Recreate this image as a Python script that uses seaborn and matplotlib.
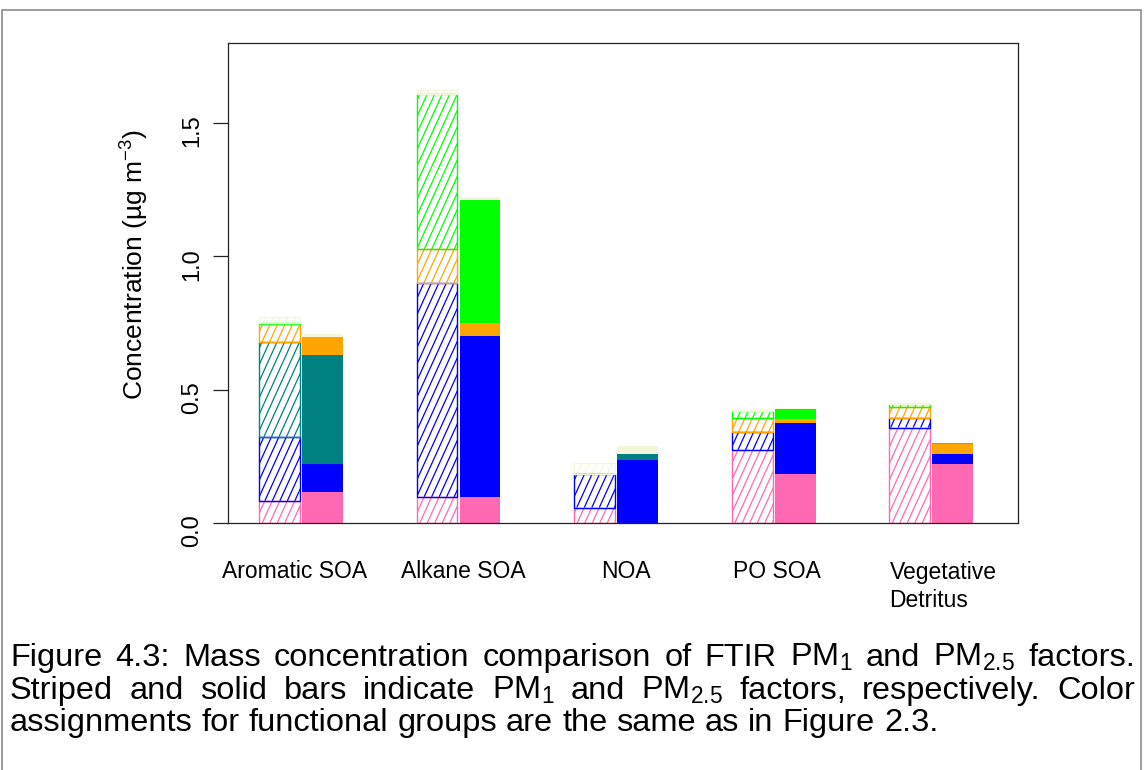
import numpy as np
import pandas as pd
import matplotlib
matplotlib.use("Agg")
import matplotlib.pyplot as plt
import matplotlib.transforms as mtransforms
from matplotlib.patches import Rectangle
from matplotlib.collections import LineCollection
import seaborn as sns

# ---------------------------------------------------------------------------
# Data: FTIR factor composition by functional group (ug m-3)
# ---------------------------------------------------------------------------
factors = ["Aromatic SOA", "Alkane SOA", "NOA", "PO SOA", "Vegetative\nDetritus"]
size_cuts = ["PM1", "PM2.5"]
groups = ["hydroxyl", "alkane", "carbonyl", "amine", "acid", "organonitrate"]
group_colors = ["#FF69B4", "#0000FF", "#008080", "#FFA500", "#00FF00", "#F5F5DC"]

pm1_hydroxyl = [0.083, 0.098, 0.058, 0.273, 0.358]
pm1_alkane = [0.240, 0.803, 0.125, 0.068, 0.037]
pm1_carbonyl = [0.355, 0.0, 0.0, 0.0, 0.0]
pm1_amine = [0.067, 0.125, 0.0, 0.053, 0.040]
pm1_acid = [0.005, 0.581, 0.0, 0.025, 0.013]
pm1_organonitrate = [0.022, 0.015, 0.042, 0.005, 0.003]

pm25_hydroxyl = [0.118, 0.098, 0.0, 0.183, 0.220]
pm25_alkane = [0.103, 0.603, 0.238, 0.193, 0.038]
pm25_carbonyl = [0.409, 0.0, 0.020, 0.0, 0.0]
pm25_amine = [0.067, 0.050, 0.0, 0.013, 0.037]
pm25_acid = [0.0, 0.459, 0.0, 0.037, 0.006]
pm25_organonitrate = [0.012, 0.012, 0.030, 0.007, 0.0]

y_ticks = [0.0, 0.5, 1.0, 1.5]
y_tick_labels = ["0.0", "0.5", "1.0", "1.5"]

caption_lines = [
    "Figure 4.3: Mass concentration comparison of FTIR PM$_1$ and PM$_{2.5}$ factors.",
    "Striped and solid bars indicate PM$_1$ and PM$_{2.5}$ factors, respectively. Color",
    "assignments for functional groups are the same as in Figure 2.3.",
]

pm1_table = [pm1_hydroxyl, pm1_alkane, pm1_carbonyl, pm1_amine, pm1_acid, pm1_organonitrate]
pm25_table = [pm25_hydroxyl, pm25_alkane, pm25_carbonyl, pm25_amine, pm25_acid, pm25_organonitrate]

rows = []
for size, table in zip(size_cuts, [pm1_table, pm25_table]):
    for g, vals in zip(groups, table):
        for f, v in zip(factors, vals):
            rows.append({"factor": f, "size": size, "group": g, "value": v})
df = pd.DataFrame(rows)
df["group"] = pd.Categorical(df["group"], categories=groups, ordered=True)
df = df.sort_values(["size", "factor", "group"])
df["top"] = df.groupby(["size", "factor"], observed=True)["value"].cumsum()
df["base"] = df["top"] - df["value"]

# ---------------------------------------------------------------------------
# Figure
# ---------------------------------------------------------------------------
W, H = 1144, 770
sns.set_style("white")
plt.rcParams["font.family"] = ["Liberation Sans", "DejaVu Sans"]
plt.rcParams["mathtext.fontset"] = "custom"
plt.rcParams["mathtext.rm"] = "Liberation Sans"
plt.rcParams["mathtext.it"] = "Liberation Sans:italic"
plt.rcParams["mathtext.bf"] = "Liberation Sans:bold"
plt.rcParams["mathtext.default"] = "regular"
for key in ["text.color", "axes.labelcolor", "xtick.color", "ytick.color"]:
    plt.rcParams[key] = "black"

fig = plt.figure(figsize=(W / 100, H / 100), dpi=100)
fig.patch.set_facecolor("white")
ax = fig.add_axes([228 / W, 1 - 523 / H, 790 / W, 480 / H])

# Stacked bars: draw cumulative tops from the highest group down, so each
# lower layer covers the part of the stack beneath it.
bar_width, bar_gap = 0.546, 0.048
for g, color in reversed(list(zip(groups, group_colors))):
    layer = df[df["group"] == g]
    n_before = len(ax.patches)
    sns.barplot(data=layer, x="factor", y="top", hue="size",
                order=factors, hue_order=size_cuts,
                palette=[color, color], width=bar_width, gap=bar_gap,
                dodge=True, errorbar=None, saturation=1, legend=False, ax=ax)
    for p in ax.patches[n_before:]:
        cx = p.get_x() + p.get_width() / 2
        if cx < round(cx):          # PM1 bar -> striped (white ground)
            p.set_facecolor("white")
        p.set_edgecolor("none")
        p.set_linewidth(0)

ax.set_xlim(-0.4635, 4.552)
ax.set_ylim(0, 1.8)

# Striped (PM1) segments: hatch lines plus an outline in the group colour
fig.canvas.draw()
to_px = ax.transData.transform
to_data = ax.transData.inverted().transform
slope, spacing = 2.2, 7.5
pm1_patches = {}
for p in ax.patches:
    cx = p.get_x() + p.get_width() / 2
    if cx < round(cx):
        pm1_patches[int(round(cx))] = (p.get_x(), p.get_width())

pm1 = df[df["size"] == "PM1"]
for gi, (g, color) in enumerate(zip(groups, group_colors)):
    seg = pm1[pm1["group"] == g]
    for _, r in seg.iterrows():
        if r["value"] <= 0:
            continue
        i = factors.index(r["factor"])
        x0, w = pm1_patches[i]
        y0, y1 = r["base"], r["top"]
        (X0, Y0), (X1, Y1) = to_px([(x0, y0), (x0 + w, y1)])
        c_min = np.floor((X0 - Y1 / slope) / spacing) * spacing
        cs = np.arange(c_min, X1 - Y0 / slope + spacing, spacing)
        segs = [to_data([(c + Y0 / slope, Y0), (c + Y1 / slope, Y1)]) for c in cs]
        clip = Rectangle((x0, y0), w, y1 - y0, transform=ax.transData)
        lc = LineCollection(segs, colors=color, linewidths=0.9, zorder=2)
        ax.add_collection(lc, autolim=False)
        lc.set_clip_path(clip)
        ax.add_patch(Rectangle((x0, y0), w, y1 - y0, fill=False,
                               edgecolor=color, linewidth=1.0, zorder=3 + gi * 0.01))

ax.set_xlim(-0.4635, 4.552)
ax.set_ylim(0, 1.8)

# Axes styling
for s in ax.spines.values():
    s.set_visible(True)
    s.set_color("#222222")
    s.set_linewidth(0.9)
ax.set_yticks(y_ticks)
ax.set_yticklabels(y_tick_labels)
ax.tick_params(axis="y", direction="out", length=11, width=0.9, color="#222222",
               labelsize=17, labelrotation=90, pad=7, left=True)
ax.tick_params(axis="x", length=0, labelsize=16.5, pad=27)
label_shift_px = [-6, 5, 10, 3, 12]
for lab, dx in zip(ax.get_xticklabels(), label_shift_px):
    lab.set_multialignment("left")
    lab.set_linespacing(1.3)
    lab.set_transform(lab.get_transform() +
                      mtransforms.ScaledTranslation(dx / 100, 0, fig.dpi_scale_trans))
ax.set_xlabel("")
ax.set_ylabel("Concentration (µg m$^{-3}$)", fontsize=19)
ax.yaxis.set_label_coords(-0.098, 0.5375)

# Outer frame
fig.add_artist(Rectangle((2 / W, -0.05), (1141 - 2) / W, 1.05 - 10 / H,
                         transform=fig.transFigure, fill=False,
                         edgecolor="#8c8c8c", linewidth=1.2))

# Caption, justified like the surrounding document text
renderer = fig.canvas.get_renderer()
cap_size = 23.4
left_px, right_px = 10, 1135
probe_a = fig.text(0, 0, "a a", fontsize=cap_size)
probe_b = fig.text(0, 0, "aa", fontsize=cap_size)
space_px = probe_a.get_window_extent(renderer).width - probe_b.get_window_extent(renderer).width
probe_a.remove()
probe_b.remove()

baselines = [666, 699, 731]
for k, (line, base_px) in enumerate(zip(caption_lines, baselines)):
    words = line.split(" ")
    items = [fig.text(0, 1 - base_px / H, wd, fontsize=cap_size, va="baseline", ha="left")
             for wd in words]
    widths = [t.get_window_extent(renderer).width for t in items]
    justify = k < len(caption_lines) - 1
    gap = (right_px - left_px - sum(widths)) / (len(words) - 1) if justify else space_px
    x = left_px
    for t, wpx in zip(items, widths):
        t.set_x(x / W)
        x += wpx + gap

fig.savefig("out.png", dpi=100, facecolor="white")
